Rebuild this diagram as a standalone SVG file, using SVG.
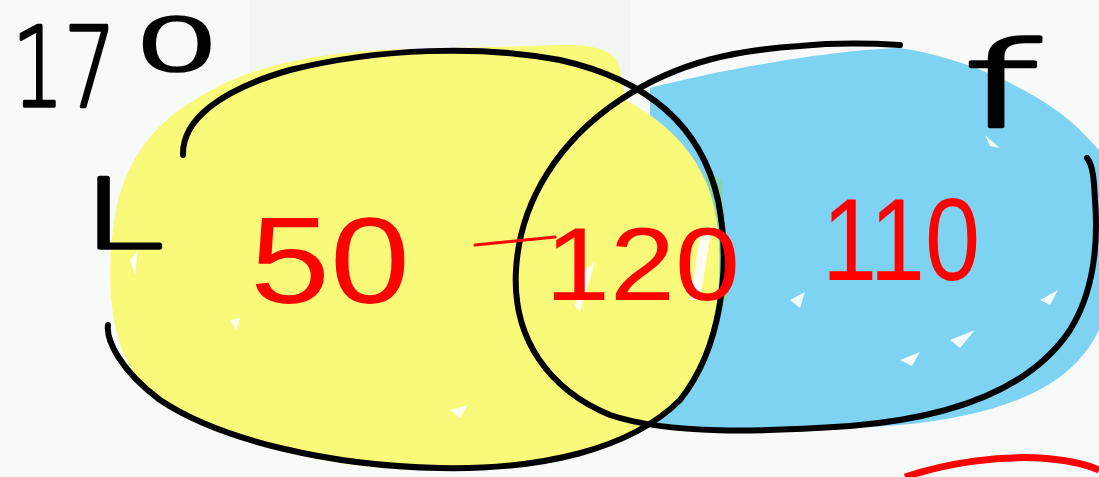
<svg xmlns="http://www.w3.org/2000/svg" width="1099" height="477" viewBox="0 0 1099 477">
<style>
.ink{fill:none;stroke:#000;stroke-width:6;stroke-linecap:round;stroke-linejoin:round}
.blk{font-family:"DejaVu Sans","Liberation Sans",Arial,sans-serif;font-weight:200;fill:#000;stroke:#000;stroke-width:3.5;stroke-linejoin:round}
.red{font-family:"Liberation Sans",Arial,sans-serif;fill:#ff0000}
.spk{fill:#ffffff;opacity:0.9}
</style>
<rect width="1099" height="477" fill="#f8fafa"/>
<rect x="250" y="0" width="380" height="90" fill="#f3f5f5"/>
<g id="blob-f">
<path d="M650,88 C720,70 830,50 900,48 C980,60 1050,100 1080,130 L1099,150 L1099,330 C1070,390 1000,415 900,425 C800,432 700,432 655,422 L650,300 Z" fill="#7ed2f2"/>
<path d="M705,170 L722,180 L728,300 L712,300 Z" fill="#84d5b8"/>
<path class="spk" d="M985,135 L1000,148 L990,146 Z M950,340 L975,330 L960,348 Z M900,360 L920,352 L912,366 Z M1040,300 L1058,290 L1050,305 Z M790,300 L805,292 L800,308 Z"/>
</g>
<g id="blob-L">
<path d="M195,100 C240,70 300,55 380,50 L560,45 C600,44 618,52 620,70 L626,100 C680,130 712,170 718,230 C724,300 712,370 660,420 C600,460 520,472 420,470 C320,468 200,440 140,380 C105,340 105,260 118,200 C132,150 160,120 195,100 Z" fill="#f9f97a"/>
<path class="spk" d="M585,270 L595,262 L580,312 L575,305 Z M700,235 L712,225 L700,300 L690,300 Z M230,320 L240,318 L236,330 Z M450,410 L468,405 L460,418 Z M130,260 L138,250 L135,275 Z"/>
</g>
<g id="connectors">
<path class="ink" d="M183,155 C182,120 220,90 290,70 C380,48 480,45 560,60 C640,78 700,120 718,200 C732,270 720,350 680,400 C630,450 540,470 440,468 C330,466 220,440 160,400 C120,370 106,340 108,325"/>
<path class="ink" d="M900,45 C850,42 820,44 800,46 C740,50 680,60 620,100 C560,140 520,200 516,270 C512,340 550,390 610,415 C670,435 760,432 850,426 C950,418 1030,390 1070,330 C1095,290 1098,240 1095,200 C1094,180 1093,165 1087,158"/>
<path d="M475,245 L555,237" fill="none" stroke="#ff0000" stroke-width="3" stroke-linecap="round"/>
<path d="M905,477 C950,462 1000,456 1040,458 C1070,460 1090,466 1099,470" fill="none" stroke="#ff0000" stroke-width="7"/>
</g>
<g id="label-170"><text class="blk" x="12" y="106" font-size="110"><tspan textLength="104" lengthAdjust="spacingAndGlyphs">17</tspan><tspan x="134" y="70" font-size="72" textLength="86" lengthAdjust="spacingAndGlyphs">0</tspan></text></g>
<g id="label-L"><text class="blk" x="82" y="248" font-size="96" textLength="82" lengthAdjust="spacingAndGlyphs">L</text></g>
<g id="label-f"><text class="blk" x="962" y="127" font-size="118" textLength="78" lengthAdjust="spacingAndGlyphs">f</text></g>
<g id="label-50"><text class="red" x="250" y="303" font-size="122" textLength="160" lengthAdjust="spacingAndGlyphs">50</text></g>
<g id="label-120"><text class="red" x="545" y="300" font-size="104" textLength="195" lengthAdjust="spacingAndGlyphs">120</text></g>
<g id="label-110"><text class="red" x="822" y="280" font-size="116" textLength="158" lengthAdjust="spacingAndGlyphs">110</text></g>
</svg>
